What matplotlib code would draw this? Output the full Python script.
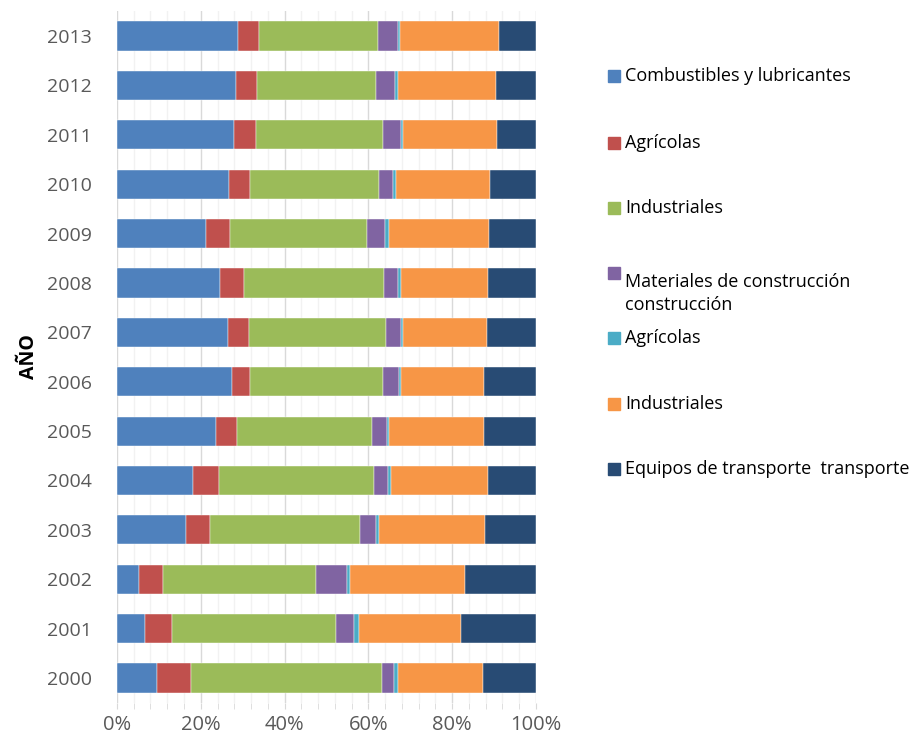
import numpy as np
import matplotlib.pyplot as plt
from matplotlib.patches import Rectangle

# share of each product group per year (percent of total)
years = ["2000", "2001", "2002", "2003", "2004", "2005", "2006",
         "2007", "2008", "2009", "2010", "2011", "2012", "2013"]

combustibles = [9.6, 6.8, 5.3, 16.5, 18.2, 23.7, 27.5, 26.5, 24.5, 21.3, 26.8, 27.9, 28.3, 28.8]
agricolas = [8.0, 6.3, 5.6, 5.7, 6.1, 5.0, 4.3, 4.9, 5.7, 5.6, 5.0, 5.2, 5.1, 5.0]
industriales = [45.6, 39.1, 36.6, 35.9, 37.0, 32.1, 31.8, 32.7, 33.5, 32.7, 30.7, 30.4, 28.5, 28.6]
materiales = [3.0, 4.4, 7.4, 3.7, 3.4, 3.7, 3.7, 3.7, 3.4, 4.4, 3.4, 4.3, 4.4, 4.6]
agricolas_k = [0.9, 1.1, 0.7, 0.7, 0.7, 0.5, 0.5, 0.4, 0.7, 1.0, 0.7, 0.5, 0.7, 0.6]
industriales_k = [20.3, 24.5, 27.4, 25.3, 23.2, 22.7, 19.9, 20.2, 20.7, 23.9, 22.4, 22.3, 23.4, 23.7]
transporte = [12.6, 17.8, 17.0, 12.2, 11.4, 12.3, 12.3, 11.6, 11.5, 11.1, 11.0, 9.4, 9.6, 8.7]

series = [combustibles, agricolas, industriales, materiales, agricolas_k, industriales_k, transporte]
names = ["Combustibles y lubricantes", "Agrícolas", "Industriales",
         "Materiales de construcción\nconstrucción", "Agrícolas", "Industriales",
         "Equipos de transporte  transporte"]
colors = ["#4F81BD", "#C0504D", "#9BBB59", "#8064A2", "#4BACC6", "#F79646", "#284B74"]

plt.rcParams['font.family'] = ['Open Sans', 'DejaVu Sans']
txt = "#595959"

fig = plt.figure(figsize=(9.11, 7.4), dpi=100)
ax = fig.add_axes([0.1284, 0.0504, 0.4599, 0.9343])

data = np.array(series, dtype=float)
data = data / data.sum(axis=0) * 100
y = np.arange(len(years))
left = np.zeros(len(years))
for vals, c in zip(data, colors):
    ax.barh(y, vals, left=left, height=0.59, color=c, edgecolor="white",
            linewidth=0.3, zorder=3)
    left += vals

ax.set_xlim(0, 100)
ax.set_ylim(-0.5, len(years) - 0.5)
ax.set_xticks(np.arange(0, 101, 20))
ax.set_xticks(np.arange(0, 101, 4), minor=True)
ax.set_xticklabels([f"{v}%" for v in range(0, 101, 20)])
ax.grid(axis="x", which="major", color="#D9D9D9", linewidth=1.0, zorder=0)
ax.grid(axis="x", which="minor", color="#F2F2F2", linewidth=1.0, zorder=0)
ax.tick_params(axis="x", which="both", length=4, color="#D9D9D9", labelsize=14.5,
               labelcolor=txt, pad=5)
ax.set_yticks(y)
ax.set_yticklabels(years)
ax.tick_params(axis="y", length=0, labelsize=14, labelcolor=txt, pad=18)
for s in ax.spines.values():
    s.set_visible(False)

ax.set_ylabel("AÑO", fontsize=14, fontweight="bold", color="black", labelpad=6)

# legend on the right, one row per series
legend_y = [76, 143, 208, 273, 338, 404, 469]
for name, c, py in zip(names, colors, legend_y):
    fig.patches.append(Rectangle((608 / 911, 1 - (py + 6) / 740), 12 / 911, 12 / 740,
                                 transform=fig.transFigure, color=c))
    fig.text(625 / 911, 1 - py / 740, name, fontsize=13, color="black",
             va="center" if "\n" not in name else "top", linespacing=1.35)

fig.savefig("out.png", dpi=100)
